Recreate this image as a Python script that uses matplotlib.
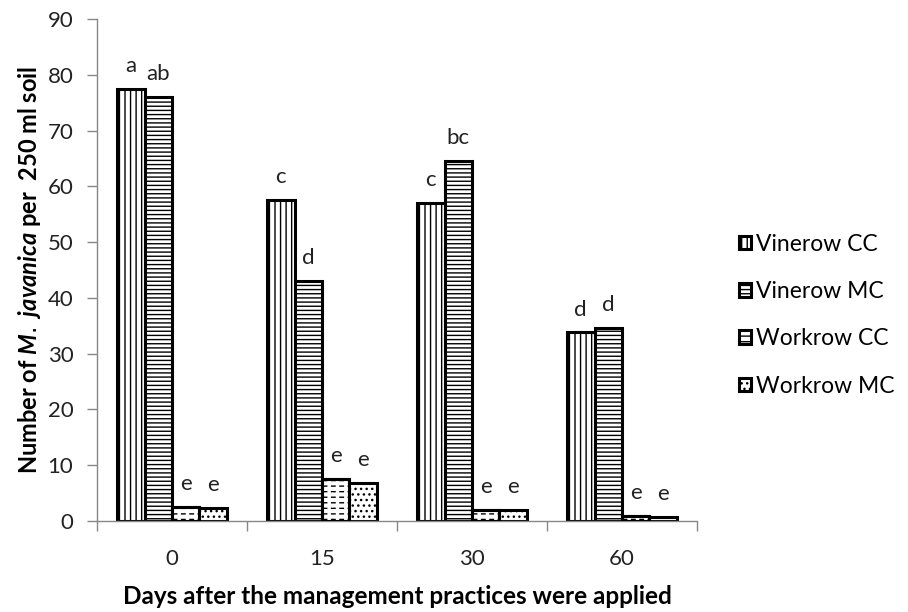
import numpy as np
import matplotlib.pyplot as plt

plt.rcParams['font.family'] = ['Lato', 'DejaVu Sans']
plt.rcParams['mathtext.fontset'] = 'custom'
plt.rcParams['mathtext.it'] = 'Lato:italic:bold'
plt.rcParams['hatch.linewidth'] = 1.0

# data
days = ['0', '15', '30', '60']
series = ['Vinerow CC', 'Vinerow MC', 'Workrow CC', 'Workrow MC']
vinerow_cc = [77.4, 57.5, 57.0, 33.8]
vinerow_mc = [76.0, 43.0, 64.5, 34.6]
workrow_cc = [2.5, 7.5, 2.0, 0.9]
workrow_mc = [2.3, 6.9, 2.0, 0.7]
letters = [['a', 'c', 'c', 'd'],
           ['ab', 'd', 'bc', 'd'],
           ['e', 'e', 'e', 'e'],
           ['e', 'e', 'e', 'e']]

values = [vinerow_cc, vinerow_mc, workrow_cc, workrow_mc]
hatches = ['|||', '----', '---', '...']

fig = plt.figure(figsize=(9.08, 6.12), dpi=100)
ax = fig.add_axes([0.1068, 0.1487, 0.6608, 0.8203])

x = np.arange(len(days))
width = 0.183
for i, vals in enumerate(values):
    pos = x + (i - 1.5) * width
    bars = ax.bar(pos, vals, width, color='white', edgecolor='black', linewidth=2.2,
                  hatch=hatches[i], label=series[i], zorder=2)
    if series[i] == 'Workrow CC':
        # break the horizontal lines into short dashes
        cut = ax.bar(pos, vals, width, fill=False, edgecolor='white', linewidth=0,
                     hatch='||', zorder=3)
        for b in cut:
            try:
                b.set_hatch_linewidth(2.5)
            except AttributeError:
                pass
        ax.bar(pos, vals, width, fill=False, edgecolor='black', linewidth=2.2, zorder=4)
    for p, v, t in zip(pos, vals, letters[i]):
        ax.text(p, v + 2.3, t, ha='center', va='bottom', fontsize=16, color='#222222')

ax.set_xlim(-0.5, 3.5)
ax.set_ylim(0, 90)
ax.set_yticks(range(0, 91, 10))
ax.set_xticks(x)
ax.set_xticklabels(days)
ax.set_xticks(np.arange(-0.5, 3.6, 1), minor=True)
ax.tick_params(axis='x', which='major', length=0, pad=20, labelsize=16, labelcolor='#222222')
ax.tick_params(axis='x', which='minor', length=7, color='#888888', width=1)
ax.tick_params(axis='y', length=7, color='#888888', width=1, labelsize=16, pad=10,
               labelcolor='#222222')

for s in ['top', 'right']:
    ax.spines[s].set_visible(False)
for s in ['left', 'bottom']:
    ax.spines[s].set_color('#888888')
    ax.spines[s].set_linewidth(1)

ax.set_ylabel('Number of $\\mathit{M.\\ javanica}$ per  250 ml soil',
              fontsize=17, fontweight='bold', labelpad=3)
ax.set_xlabel('Days after the management practices were applied',
              fontsize=17.5, fontweight='bold', labelpad=12)

leg = ax.legend(loc='center left', bbox_to_anchor=(1.035, 0.41), frameon=False,
                fontsize=16.5, handlelength=0.55, handleheight=0.55,
                handletextpad=0.2, labelspacing=1.15)

fig.savefig('out.png', dpi=100)
